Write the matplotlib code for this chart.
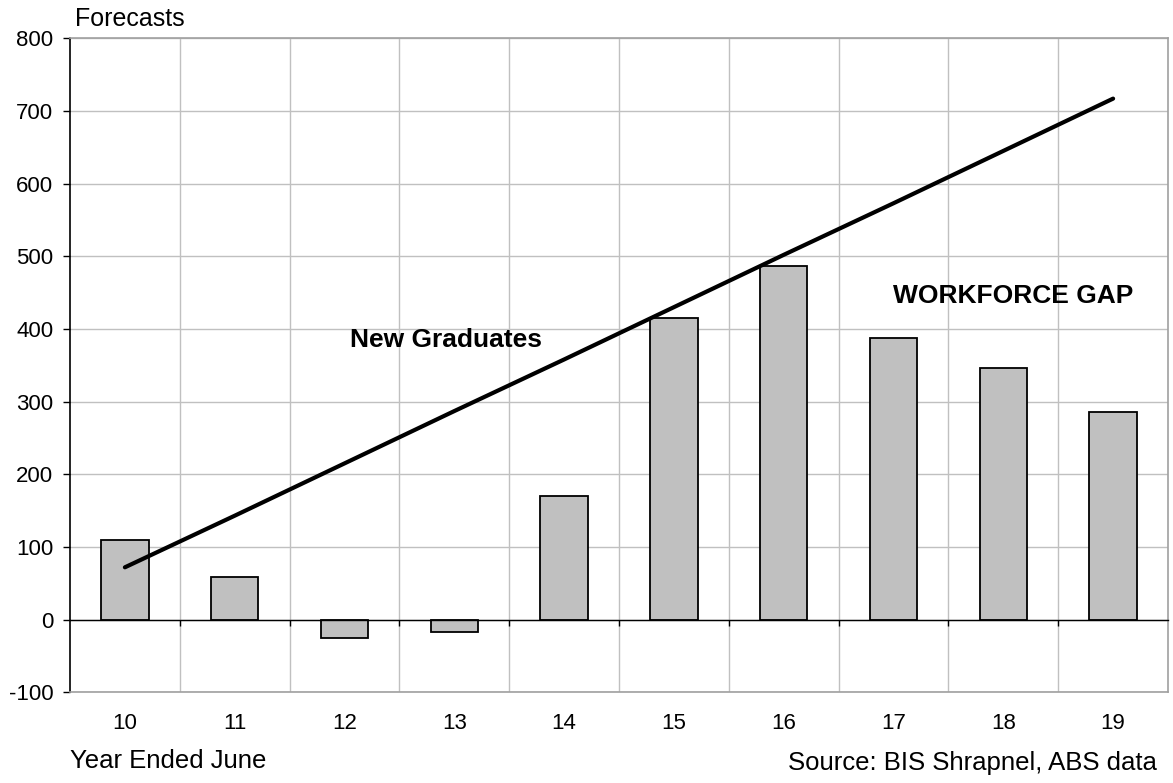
import matplotlib
matplotlib.use("Agg")
import matplotlib.pyplot as plt
import numpy as np

plt.rcParams['font.family'] = ['Liberation Sans', 'DejaVu Sans']
plt.rcParams['axes.unicode_minus'] = False

years = ['10', '11', '12', '13', '14', '15', '16', '17', '18', '19']
workforce_gap = [110, 58, -25, -17, 170, 415, 486, 387, 346, 286]
new_graduates = [72, 143, 215, 287, 358, 430, 502, 573, 645, 717]
y_ticks = [-100, 0, 100, 200, 300, 400, 500, 600, 700, 800]

W, H = 1173, 783
fig = plt.figure(figsize=(W / 100, H / 100), dpi=100)
ax = fig.add_axes([70 / W, 1 - 692.3 / H, 1098 / W, (692.3 - 38.3) / H])

x = np.arange(len(years))
grid_col = '#c0c0c0'

ax.set_xlim(-0.5, len(years) - 0.5)
ax.set_ylim(-100, 800)

# grid: horizontal at every 100, vertical between categories
ax.set_yticks(y_ticks)
ax.set_xticks(x)
ax.set_xticks(x[:-1] + 0.5, minor=True)
ax.grid(which='major', axis='y', color=grid_col, lw=1.0)
ax.grid(which='minor', axis='x', color=grid_col, lw=1.0)
ax.set_axisbelow(True)

ax.bar(x, workforce_gap, width=0.43, color='#c0c0c0', edgecolor='black',
       linewidth=1.3, zorder=3)
ax.plot(x, new_graduates, color='black', lw=3.0, solid_capstyle='round', zorder=4)

# category labels below the frame, no tick marks
ax.tick_params(axis='x', which='both', length=0, pad=15, labelsize=16)
ax.set_xticklabels(years)
ax.tick_params(axis='y', direction='out', length=5, width=1, color='black',
               pad=7, labelsize=16)

for side in ('top', 'right', 'bottom'):
    ax.spines[side].set_color('#a0a0a0')
    ax.spines[side].set_linewidth(1.2)
ax.spines['left'].set_color('black')
ax.spines['left'].set_linewidth(1.2)

# zero axis with tick marks between categories
zero_ax = ax.secondary_xaxis(100 / 900)
zero_ax.set_xticks(x[:-1] + 0.5)
zero_ax.set_xticklabels([])
zero_ax.tick_params(axis='x', direction='out', length=4, width=1, color='black')
zero_ax.spines['bottom'].set_color('black')
zero_ax.spines['bottom'].set_linewidth(1.0)
zero_ax.set_zorder(5)

ax.text(2.92, 385, 'New Graduates', ha='center', va='center',
        fontsize=19, fontweight='bold', zorder=6)
ax.text(8.09, 446, 'WORKFORCE GAP', ha='center', va='center',
        fontsize=19, fontweight='bold', zorder=6)

fig.text(75 / W, 1 - 19 / H, 'Forecasts', ha='left', va='center', fontsize=18)
fig.text(70 / W, 1 - 761 / H, 'Year Ended June', ha='left', va='center', fontsize=18.5)
fig.text(1157 / W, 1 - 763 / H, 'Source: BIS Shrapnel, ABS data', ha='right',
         va='center', fontsize=18.5)

fig.savefig('out.png', dpi=100)
